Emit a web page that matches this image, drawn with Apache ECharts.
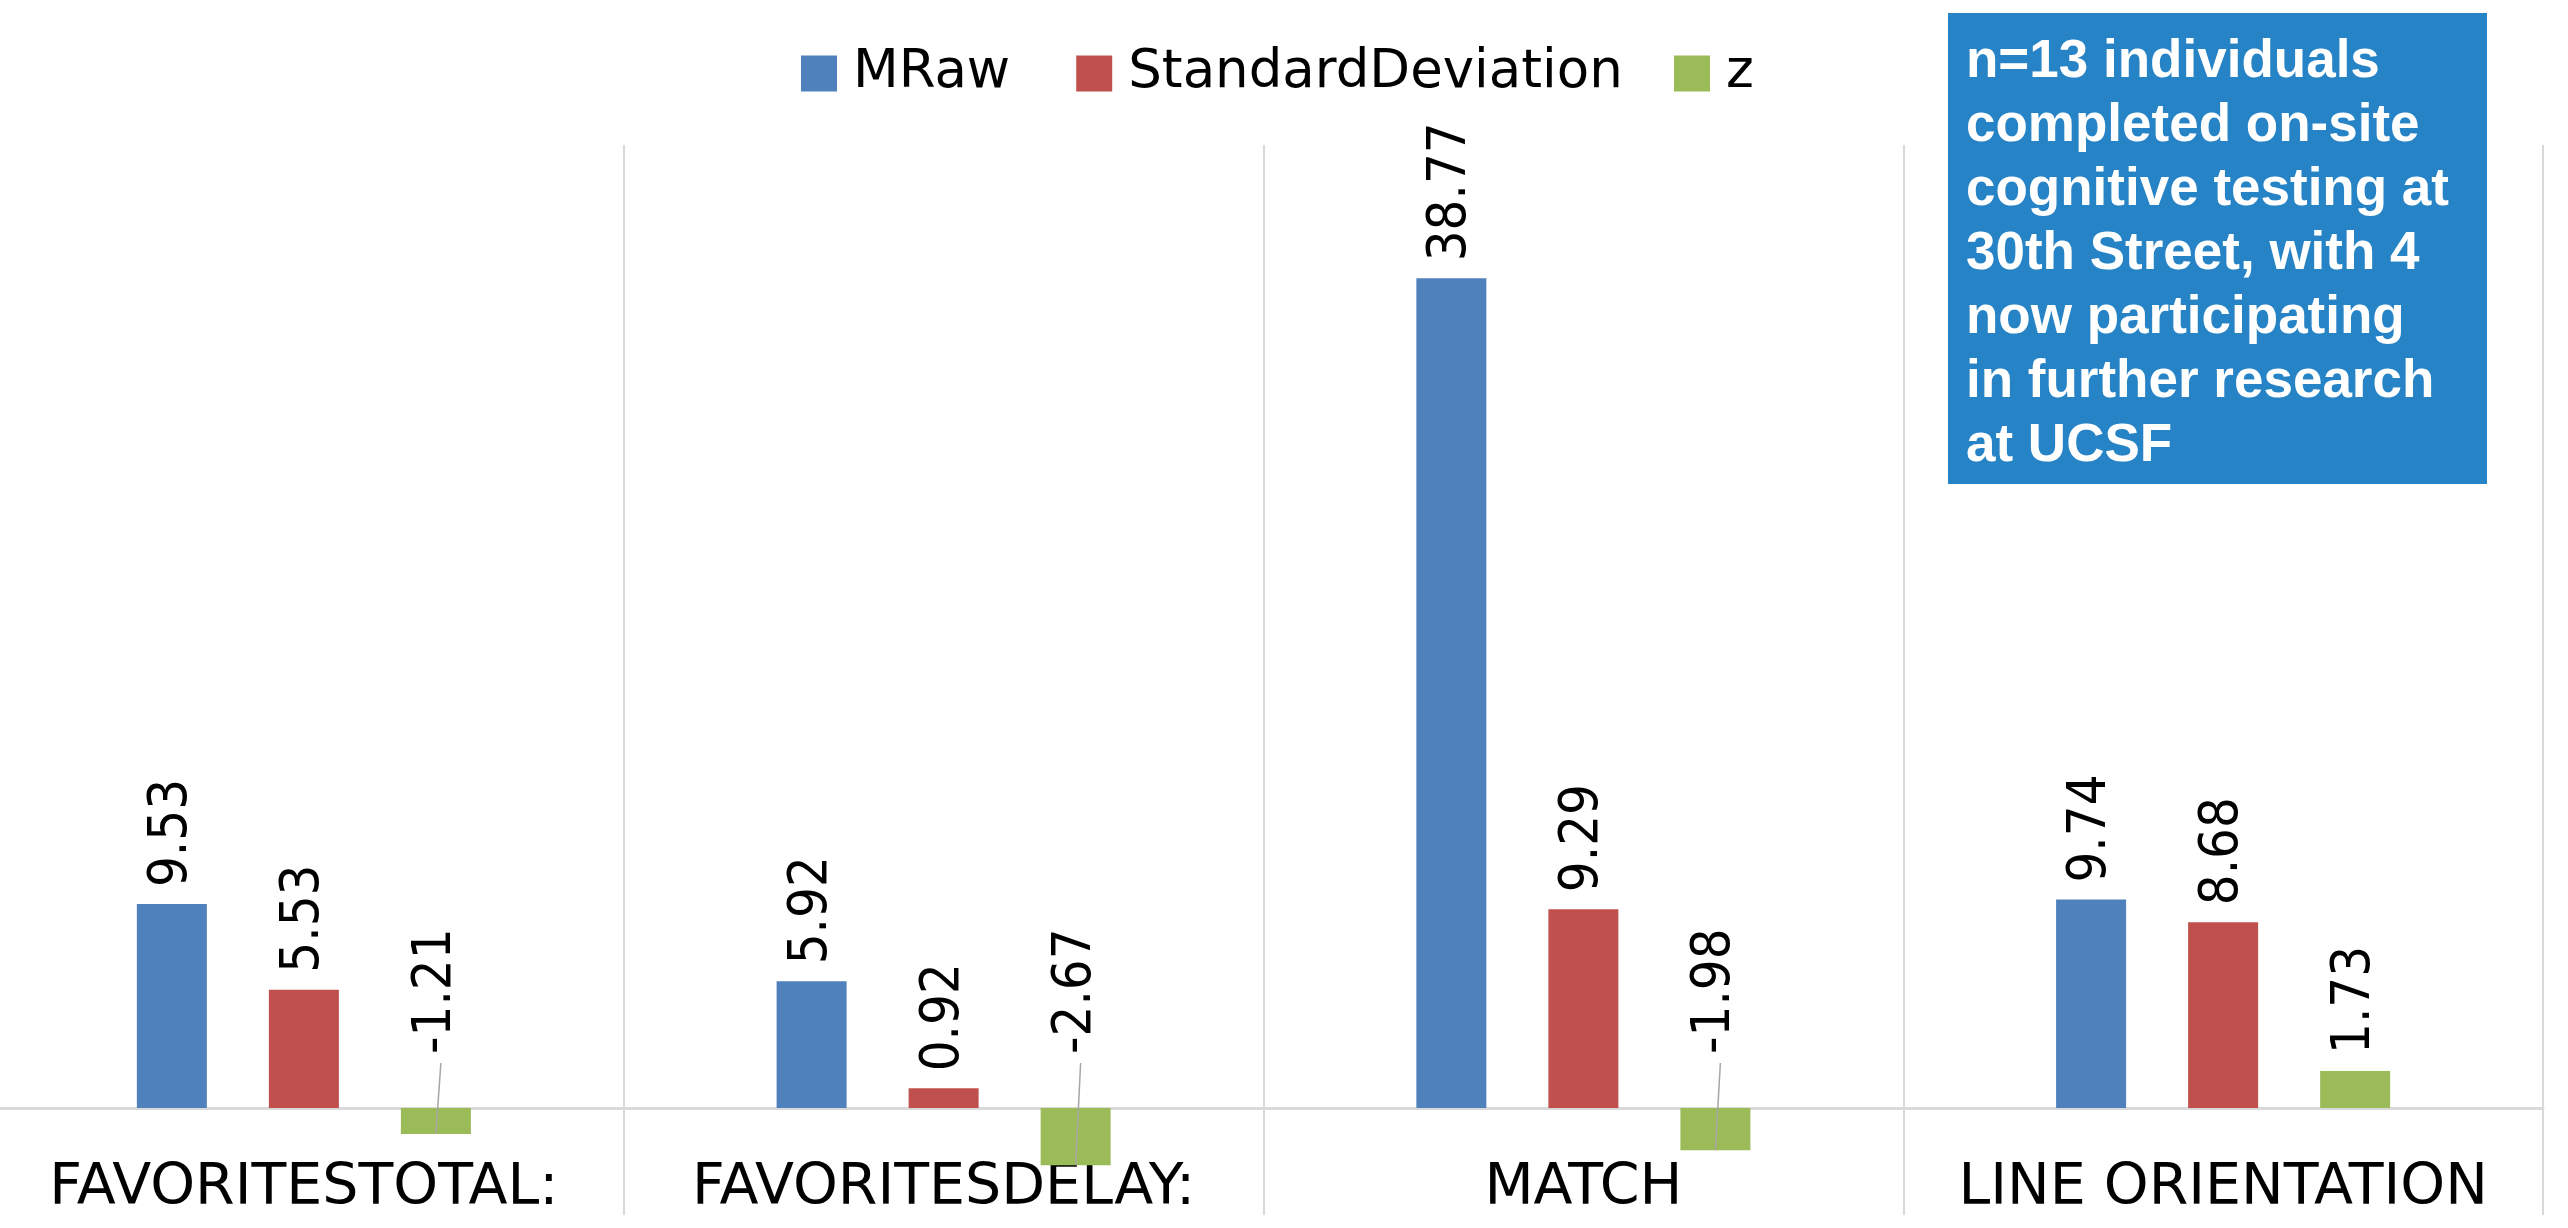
<!DOCTYPE html>
<html>
<head>
<meta charset="utf-8">
<script src="https://cdn.jsdelivr.net/npm/echarts@6/dist/echarts.min.js"></script>
<style>
  html, body { margin: 0; padding: 0; background: #fff; }
  #chart { width: 2568px; height: 1228px; }
</style>
</head>
<body>
<div id="chart"></div>
<script>
const categories = ['FAVORITESTOTAL:', 'FAVORITESDELAY:', 'MATCH', 'LINE ORIENTATION'];
const seriesNames = ['MRaw', 'StandardDeviation', 'z'];
const mRaw = [9.53, 5.92, 38.77, 9.74];
const standardDeviation = [5.53, 0.92, 9.29, 8.68];
const zValues = [-1.21, -2.67, -1.98, 1.73];
const noteLines = [
  'n=13 individuals',
  'completed on-site',
  'cognitive testing at',
  '30th Street, with 4',
  'now participating',
  'in further research',
  'at UCSF'
];

const BAR_W = 70;
const BAR_GAP = 62;
const FONT = 'DejaVu Sans';
const LABEL_FONT = '"DejaVu Sans Condensed", "DejaVu Sans"';

const chart = echarts.init(document.getElementById('chart'));

function barLabel(dist) {
  return {
    show: true,
    position: 'top',
    distance: dist,
    rotate: 90,
    align: 'left',
    verticalAlign: 'middle',
    color: '#000',
    fontFamily: LABEL_FONT,
    fontSize: 54,
    formatter: (p) => p.value.toFixed(2)
  };
}

// negative z labels sit above the zero line, tied back to the bar with a thin leader
const zData = zValues.map((v) => (v < 0 ? { value: v, label: barLabel(54) } : v));

const legendBase = {
  top: 42,
  itemWidth: 36,
  itemHeight: 36,
  itemGap: 66,
  icon: 'rect',
  textStyle: { fontFamily: FONT, fontSize: 53, color: '#000', padding: [0, 0, 0, 11] }
};

chart.setOption({
  animation: false,
  backgroundColor: '#fff',
  color: ['#4F81BD', '#C0504D', '#9BBB59'],
  legend: [
    Object.assign({}, legendBase, { data: seriesNames.slice(0, 2), left: 796 }),
    Object.assign({}, legendBase, { data: seriesNames.slice(2), left: 1669 })
  ],
  grid: { left: -16, right: 25, top: 145, bottom: 13, containLabel: false, outerBoundsMode: 'none' },
  xAxis: {
    type: 'category',
    data: categories,
    axisLine: { show: true, onZero: true, lineStyle: { color: '#d9d9d9', width: 3 } },
    axisTick: { show: false },
    splitLine: { show: true, interval: 0, lineStyle: { color: '#d9d9d9', width: 2 } },
    axisLabel: { interval: 0, margin: -54, fontFamily: FONT, fontSize: 57, color: '#000' }
  },
  yAxis: {
    type: 'value',
    min: -5,
    max: 45,
    interval: 5,
    show: false,
    splitLine: { show: false }
  },
  graphic: [
    {
      type: 'rect',
      shape: { x: 1948, y: 13, width: 539, height: 471 },
      style: { fill: '#2683C6' },
      z: 10
    },
    {
      type: 'text',
      x: 1966,
      y: 30,
      z: 11,
      style: {
        text: noteLines.join('\n'),
        fill: '#fff',
        font: 'bold 53px "Liberation Sans", Arial, sans-serif',
        lineHeight: 64,
        verticalAlign: 'top'
      }
    }
  ],
  series: [
    {
      name: seriesNames[0],
      type: 'bar',
      barWidth: BAR_W,
      barGap: (BAR_GAP / BAR_W * 100).toFixed(1) + '%',
      data: mRaw,
      label: barLabel(17)
    },
    {
      name: seriesNames[1],
      type: 'bar',
      barWidth: BAR_W,
      barGap: (BAR_GAP / BAR_W * 100).toFixed(1) + '%',
      data: standardDeviation,
      label: barLabel(17)
    },
    {
      name: seriesNames[2],
      type: 'bar',
      barWidth: BAR_W,
      barGap: (BAR_GAP / BAR_W * 100).toFixed(1) + '%',
      data: zData,
      label: barLabel(17)
    },
    {
      name: 'leader',
      type: 'custom',
      z: 5,
      silent: true,
      data: zValues.map((v, i) => [i, v]),
      renderItem: (params, api) => {
        const v = api.value(1);
        if (v >= 0) return null;
        const base = api.coord([api.value(0), 0]);
        const end = api.coord([api.value(0), v]);
        const cx = base[0] + BAR_W + BAR_GAP;
        return {
          type: 'line',
          shape: { x1: cx + 5, y1: base[1] - 45, x2: cx, y2: end[1] },
          style: { stroke: '#a6a6a6', lineWidth: 1.5 }
        };
      }
    }
  ]
});
</script>
</body>
</html>
